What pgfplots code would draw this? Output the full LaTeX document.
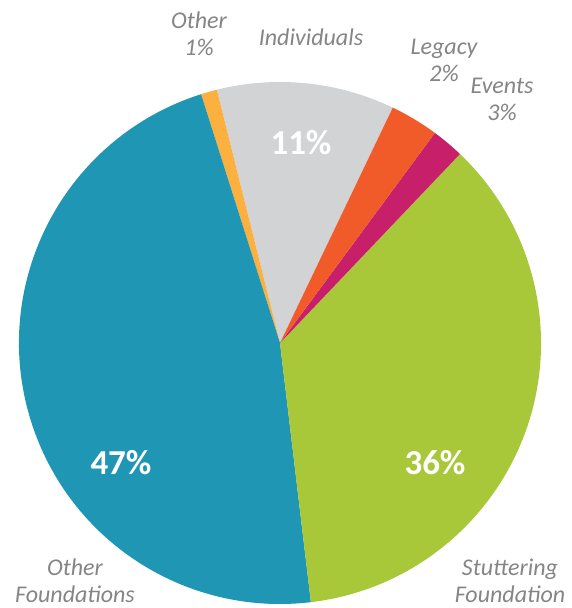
\documentclass[border=0pt]{standalone}
\usepackage{pgfplots}
\pgfplotsset{compat=1.18}
\usepackage{pgfplotstable}
\usepackage{fontspec}
\setmainfont{Carlito}
\definecolor{cgray}{HTML}{D1D3D4}
\definecolor{corange}{HTML}{FBB040}
\definecolor{cblue}{HTML}{1F96B4}
\definecolor{cgreen}{HTML}{A8C83A}
\definecolor{cmag}{HTML}{C81F6A}
\definecolor{cred}{HTML}{F15A29}
\definecolor{labgray}{HTML}{858585}
\pgfplotstableread{
label pct color
Individuals 11 cgray
Other 1 corange
OtherFoundations 47 cblue
StutteringFoundation 36 cgreen
Events 2 cmag
Legacy 3 cred
}\piedata
\tikzset{
  lab/.style={font=\fontsize{24}{27}\selectfont\itshape, text=labgray, align=center, inner sep=0pt},
  pct/.style={font=\fontsize{35}{40}\selectfont\bfseries, text=white},
}
\begin{document}
\begin{tikzpicture}
\begin{axis}[
  scale only axis, width=572pt, height=608pt,
  xmin=0, xmax=572, ymin=0, ymax=608,
  hide axis, clip=false,
]
\def\cum{64.4}
\pgfplotsforeachungrouped \i in {0,...,5} {
  \pgfplotstablegetelem{\i}{pct}\of\piedata \let\p\pgfplotsretval
  \pgfplotstablegetelem{\i}{color}\of\piedata \let\c\pgfplotsretval
  \pgfmathsetmacro\e{\cum+3.6*\p}
  \edef\tmp{\noexpand\fill[\c] (axis cs:280,265) -- ++(\cum:261pt) arc[start angle=\cum, end angle=\e, radius=261pt] -- cycle;}
  \tmp
  \let\cum\e
}
\node[lab] at (axis cs:199,574) {Other\\1\%};
\node[lab] at (axis cs:311,571) {Individuals};
\node[lab] at (axis cs:444,548) {Legacy\\2\%};
\node[lab] at (axis cs:502,509) {Events\\3\%};
\node[lab] at (axis cs:75,27) {Other\\Foundations};
\node[lab] at (axis cs:510,27) {Stuttering\\Foundation};
\node[pct] at (axis cs:301,465) {11\%};
\node[pct] at (axis cs:121,145) {47\%};
\node[pct] at (axis cs:435,145) {36\%};
\end{axis}
\pgfresetboundingbox
\path (current axis.south west) rectangle (current axis.north east);
\end{tikzpicture}
\end{document}
